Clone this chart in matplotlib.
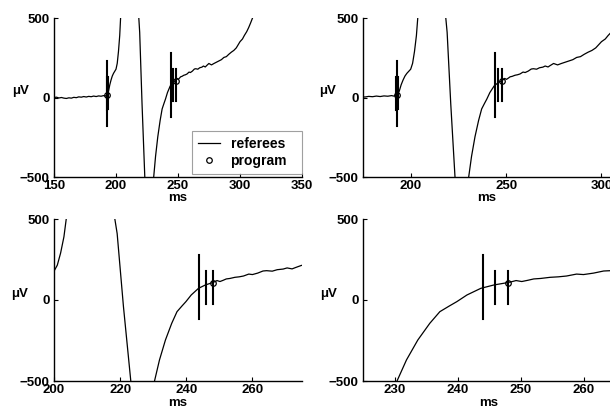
import matplotlib
matplotlib.use("Agg")
import matplotlib.pyplot as plt
import numpy as np

plt.rcParams['font.family'] = ['Liberation Sans', 'DejaVu Sans']
plt.rcParams['font.weight'] = 'bold'

# ---- data ----
t_ms = [150, 152, 154, 156, 158, 160, 162, 164, 166, 168, 170, 172, 174, 176, 178,
        180, 182, 184, 186, 188, 190, 191, 192, 193, 194, 195, 196, 197, 198, 199,
        200, 201, 202, 203, 203.7, 205, 208, 211, 214, 216, 217.5, 218.4, 219.1,
        221, 223.2, 225, 227, 229, 230.4, 231.9, 233.7, 235.6, 237.2, 238.7, 239.9,
        241.5, 243.7, 245.8, 247.6, 248.5, 249.3, 250.2, 251.2, 252.1, 253.2, 254.7,
        256, 257.3, 258.9, 260, 261.6, 263.2, 264.3, 266, 267.5, 269.3, 270.5, 272,
        273, 274.9, 277, 279, 281, 283, 285, 287, 289, 291, 293, 295, 297, 300,
        302, 303.5, 305.4, 307, 308.5, 310]
v_uV = [0, 2, -3, 0, -4, -6, -2, -4, 1, -1, 4, 2, 6, 3, 7, 5, 9, 6, 10, 8, 12, 9, 12,
        15, 40, 80, 110, 135, 152, 165, 178, 215, 290, 390, 500, 800, 1200, 1400,
        1300, 1000, 700, 500, 410, -40, -495, -850, -950, -800, -500, -370, -247,
        -144, -72, -37, -10, 31, 72, 93, 105, 112, 120, 114, 122, 130, 133, 140,
        143, 148, 160, 157, 166, 179, 181, 178, 187, 191, 198, 192, 200, 214, 205,
        214, 222, 230, 238, 252, 257, 272, 285, 296, 312, 351, 368, 390, 414, 440,
        468, 498]

# referee marks: time, bottom, top
ref_t = [192.5, 193, 193.5, 244, 246, 248]
ref_lo = [-78, -180, -75, -120, -22, -22]
ref_hi = [130, 230, 130, 280, 180, 180]

# program detections
prog_t = [193, 248]
prog_v = [15, 105]

xlims = [(150, 350), (175, 305), (200, 275), (225, 265)]
xticks = [[150, 200, 250, 300, 350], [200, 250, 300], [200, 220, 240, 260],
          [230, 240, 250, 260]]
yticks = [-500, 0, 500]

W, H = 610, 409
fig = plt.figure(figsize=(W / 100, H / 100), dpi=100)

# pixel boxes: left, top, right, bottom
boxes = [(54, 18, 302, 177), (363, 18, 611, 177), (54, 219, 302, 381), (363, 219, 615, 381)]
ylab_x = [-0.133, -0.141, -0.137, -0.137]

FS = 9.5
axes = []
for i, (l, tp, r, b) in enumerate(boxes):
    ax = fig.add_axes([l / W, (H - b) / H, (r - l) / W, (b - tp) / H])
    ax.plot(t_ms, v_uV, color='black', lw=0.9, label='referees')
    for tt, lo, hi in zip(ref_t, ref_lo, ref_hi):
        ax.plot([tt, tt], [lo, hi], color='black', lw=1.5)
    ax.plot(prog_t, prog_v, linestyle='none', marker='o', ms=4, mfc='none',
            mec='black', mew=0.9, label='program')
    ax.set_xlim(*xlims[i])
    ax.set_ylim(-500, 500)
    ax.set_xticks(xticks[i])
    ax.set_yticks(yticks)
    ax.spines['top'].set_visible(False)
    ax.spines['right'].set_visible(False)
    for s in ('left', 'bottom'):
        ax.spines[s].set_linewidth(1.0)
    ax.tick_params(direction='in', length=3, width=0.8, labelsize=FS)
    ax.tick_params(axis='y', pad=3)
    ax.tick_params(axis='x', pad=2)
    for lab in ax.get_xticklabels() + ax.get_yticklabels():
        lab.set_fontweight('bold')
    ax.set_xlabel('ms', fontsize=FS, fontweight='bold', va='center')
    ax.xaxis.set_label_coords(0.5, -0.135)
    ax.set_ylabel('\u03bcV', fontsize=FS, fontweight='bold', rotation=0,
                  va='center', ha='center')
    ax.yaxis.set_label_coords(ylab_x[i], 0.54)
    axes.append(ax)

handles, labels = axes[0].get_legend_handles_labels()
leg = axes[0].legend([handles[0], handles[-1]], ['referees', 'program'],
                     loc='lower left', bbox_to_anchor=(0.555, 0.02, 0.445, 0.24),
                     mode='expand', borderaxespad=0, frameon=True, fancybox=False,
                     handlelength=1.6, handletextpad=0.75, borderpad=0.45,
                     labelspacing=0.2, prop={'weight': 'bold', 'size': 10})
leg.get_frame().set_edgecolor('#888888')
leg.get_frame().set_linewidth(0.8)

fig.savefig('out.png', dpi=100)
